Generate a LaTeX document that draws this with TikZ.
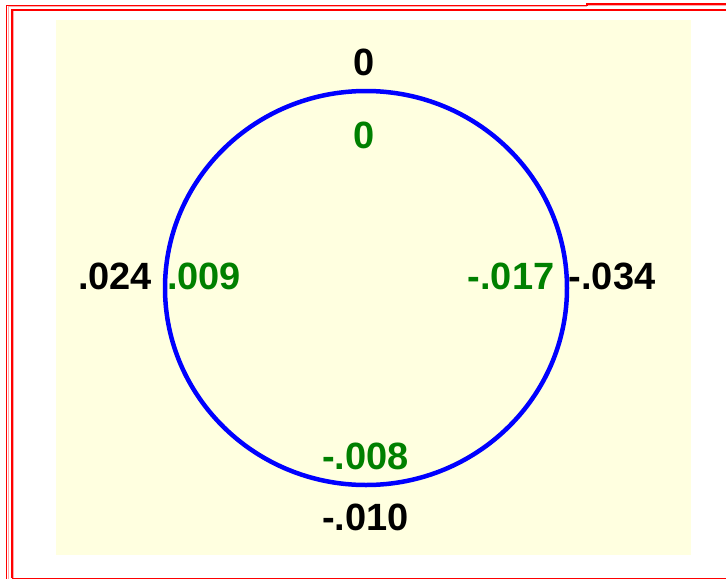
\documentclass[tikz,border=0pt]{standalone}
\usepackage{fontspec}
\setmainfont{Liberation Sans}
\usetikzlibrary{shapes.geometric}
\definecolor{bgyellow}{RGB}{255,255,224}
\definecolor{ringblue}{RGB}{0,0,255}
\definecolor{valgreen}{RGB}{0,128,0}
\definecolor{frame}{RGB}{255,0,0}
\definecolor{framepink}{RGB}{255,170,170}
\tikzset{
  val/.style={font=\fontsize{38}{40}\selectfont\bfseries, inner sep=0pt, anchor=base},
  outerval/.style={val, text=black},
  innerval/.style={val, text=valgreen},
  frameline/.style={draw=frame, line width=1.6pt},
}
\begin{document}
\begin{tikzpicture}[x=1pt,y=-1pt]
\useasboundingbox (0,0) rectangle (726,579);
\fill[white] (0,0) rectangle (726,579);
% frame lines
\draw[framepink, line width=1pt] (8,579) -- (8,6.5) -- (587,6.5);
\draw[framepink, line width=1pt] (587,5.3) -- (726,5.3);
\draw[frameline] (6.3,579) -- (6.3,5.3) -- (587,5.3) -- (587,3.8) -- (726,3.8);
\draw[framepink, line width=1pt] (13,578) -- (13,11);
\draw[frameline] (11.8,578.2) -- (11.8,10) -- (726,10);
\draw[frame, line width=2.2pt] (11.8,10) -- (726,10);
\draw[frame, line width=1.5pt] (11.8,578.3) -- (726,578.3);
% panel
\fill[bgyellow] (56,20) rectangle (691,555);
% ring
\node[ellipse, draw=ringblue, line width=4.5pt, minimum width=402pt, minimum height=394pt, inner sep=0pt] (ring) at (366,288) {};
% labels
\node[outerval] (top) at (364,75) {0};
\node[innerval] (topin) at (364,148) {0};
\node[outerval] (left) at (115,289) {.024};
\node[innerval] (leftin) at (204,289) {.009};
\node[innerval] (rightin) at (511,289) {-.017};
\node[outerval] (right) at (612,289) {-.034};
\node[innerval] (botin) at (365.5,469) {-.008};
\node[outerval] (bot) at (365.5,530) {-.010};
\end{tikzpicture}
\end{document}
